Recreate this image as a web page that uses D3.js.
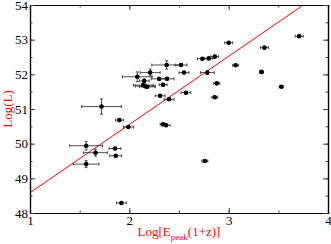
<!DOCTYPE html>
<html>
<head>
<meta charset="utf-8">
<script src="https://cdn.jsdelivr.net/npm/d3@7"></script>
<style>
  body { margin: 0; background: #fff; }
  svg { display: block; }
  text { font-family: "Liberation Serif", "Times New Roman", serif; }
</style>
</head>
<body>
<div id="chart"></div>
<script>
// log Epeak(1+z), log L, and their errors
var logEp  = [1.565, 1.66, 1.565, 1.856, 1.863, 1.92, 1.72, 1.90, 1.99, 2.34, 2.37, 2.76,
              2.08, 2.15, 2.14, 2.18, 2.16, 2.30, 2.38, 2.34, 2.21, 2.376, 2.52, 2.55,
              2.57, 2.31, 2.40, 2.735, 2.80, 2.86, 2.785, 2.88, 2.86, 3.0, 3.07, 3.36,
              3.33, 3.53, 3.71]
var logL   = [49.94, 49.74, 49.41, 49.86, 49.65, 48.29, 51.07, 50.68, 50.48, 50.56, 50.53, 49.50,
              51.93, 51.81, 51.69, 51.64, 51.66, 51.87, 51.87, 51.70, 52.05, 52.27, 52.27, 52.05,
              51.47, 51.38, 51.28, 52.45, 52.46, 52.51, 52.05, 51.74, 51.34, 52.91, 52.26, 52.77,
              52.07, 51.64, 53.10]
var errEp  = [0.166, 0.12, 0.13, 0.06, 0.06, 0.05, 0.2, 0.04, 0.05, 0.03, 0.04, 0.03,
              0.15, 0.05, 0.1, 0.08, 0.1, 0.08, 0.07, 0.04, 0.1, 0.15, 0.06, 0.05,
              0.05, 0.05, 0.05, 0.05, 0.04, 0.04, 0.07, 0.03, 0.03, 0.04, 0.03, 0.04,
              0.02, 0.02, 0.04]
var errL   = [0.12, 0.1, 0.1, 0.03, 0.03, 0.02, 0.22, 0.03, 0.03, 0.03, 0.03, 0.02,
              0.14, 0.05, 0.05, 0.04, 0.05, 0.04, 0.04, 0.04, 0.1, 0.12, 0.04, 0.03,
              0.03, 0.03, 0.03, 0.03, 0.03, 0.03, 0.05, 0.03, 0.03, 0.03, 0.03, 0.03,
              0.02, 0.02, 0.03]

// best fit line: logL = a + b * logEp
var fitA = 46.617
var fitB = 1.968

var xTicks = [1, 2, 3, 4]
var yTicks = [48, 49, 50, 51, 52, 53, 54]

var width = 331, height = 244
var mLeft = 30, mRight = 328, mTop = 5, mBottom = 213

var x = d3.scaleLinear().domain([1, 4]).range([mLeft, mRight])
var y = d3.scaleLinear().domain([48, 54]).range([mBottom, mTop])

var svg = d3.select("#chart").append("svg")
    .attr("width", width)
    .attr("height", height)

svg.append("defs").append("clipPath").attr("id", "clip")
    .append("rect")
    .attr("x", mLeft).attr("y", mTop)
    .attr("width", mRight - mLeft).attr("height", mBottom - mTop)

// fit line
var lineX = [1, 4]
svg.append("line")
    .attr("clip-path", "url(#clip)")
    .attr("x1", x(lineX[0])).attr("y1", y(fitA + fitB * lineX[0]))
    .attr("x2", x(lineX[1])).attr("y2", y(fitA + fitB * lineX[1]))
    .attr("stroke", "#ff0000")
    .attr("stroke-width", 1)

// error bars
var pts = svg.append("g").selectAll("g")
    .data(logEp.map(function (d, i) { return i }))
    .enter()
    .append("g")
    .attr("stroke", "#222")
    .attr("stroke-width", 0.8)

pts.append("line")
    .attr("x1", d => x(logEp[d] - errEp[d])).attr("x2", d => x(logEp[d] + errEp[d]))
    .attr("y1", d => y(logL[d])).attr("y2", d => y(logL[d]))
pts.append("line")
    .attr("x1", d => x(logEp[d])).attr("x2", d => x(logEp[d]))
    .attr("y1", d => y(logL[d] - errL[d])).attr("y2", d => y(logL[d] + errL[d]))
// caps
pts.append("line")
    .attr("x1", d => x(logEp[d] - errEp[d])).attr("x2", d => x(logEp[d] - errEp[d]))
    .attr("y1", d => y(logL[d]) - 1.5).attr("y2", d => y(logL[d]) + 1.5)
pts.append("line")
    .attr("x1", d => x(logEp[d] + errEp[d])).attr("x2", d => x(logEp[d] + errEp[d]))
    .attr("y1", d => y(logL[d]) - 1.5).attr("y2", d => y(logL[d]) + 1.5)
pts.append("line")
    .attr("x1", d => x(logEp[d]) - 1.5).attr("x2", d => x(logEp[d]) + 1.5)
    .attr("y1", d => y(logL[d] - errL[d])).attr("y2", d => y(logL[d] - errL[d]))
pts.append("line")
    .attr("x1", d => x(logEp[d]) - 1.5).attr("x2", d => x(logEp[d]) + 1.5)
    .attr("y1", d => y(logL[d] + errL[d])).attr("y2", d => y(logL[d] + errL[d]))

pts.append("circle")
    .attr("cx", d => x(logEp[d]))
    .attr("cy", d => y(logL[d]))
    .attr("r", 2.3)
    .attr("fill", "#000")
    .attr("stroke", "none")

// axes, ticks pointing inward
var xMinor = d3.range(1, 4.01, 0.5)
var yMinor = d3.range(48, 54.01, 0.5)

function styleAxis(g) {
    g.select(".domain").attr("stroke", "#000").attr("stroke-width", 1.2)
    g.selectAll(".tick line").attr("stroke", "#444")
    g.selectAll("text").attr("font-size", "13px").attr("fill", "#000")
}

svg.append("g")
    .attr("transform", "translate(0," + mBottom + ")")
    .call(d3.axisBottom(x).tickValues(xTicks).tickSizeInner(-5).tickSizeOuter(0).tickPadding(3).tickFormat(d3.format("d")))
    .call(styleAxis)
svg.append("g")
    .attr("transform", "translate(0," + mBottom + ")")
    .call(d3.axisBottom(x).tickValues(xMinor).tickSize(-2.5).tickFormat(""))
    .call(styleAxis)
svg.append("g")
    .attr("transform", "translate(0," + mTop + ")")
    .call(d3.axisTop(x).tickValues(xTicks).tickSizeInner(-5).tickSizeOuter(0).tickFormat(""))
    .call(styleAxis)
svg.append("g")
    .attr("transform", "translate(0," + mTop + ")")
    .call(d3.axisTop(x).tickValues(xMinor).tickSize(-2.5).tickFormat(""))
    .call(styleAxis)

svg.append("g")
    .attr("transform", "translate(" + mLeft + ",0)")
    .call(d3.axisLeft(y).tickValues(yTicks).tickSizeInner(-5).tickSizeOuter(0).tickPadding(2).tickFormat(d3.format("d")))
    .call(styleAxis)
svg.append("g")
    .attr("transform", "translate(" + mLeft + ",0)")
    .call(d3.axisLeft(y).tickValues(yMinor).tickSize(-2.5).tickFormat(""))
    .call(styleAxis)
svg.append("g")
    .attr("transform", "translate(" + mRight + ",0)")
    .call(d3.axisRight(y).tickValues(yTicks).tickSizeInner(-5).tickSizeOuter(0).tickFormat(""))
    .call(styleAxis)
svg.append("g")
    .attr("transform", "translate(" + mRight + ",0)")
    .call(d3.axisRight(y).tickValues(yMinor).tickSize(-2.5).tickFormat(""))
    .call(styleAxis)

// axis titles
var xl = svg.append("text")
    .attr("x", 179)
    .attr("y", 236)
    .attr("text-anchor", "middle")
    .attr("font-size", "13px")
    .attr("fill", "#ff0000")
xl.append("tspan").text("Log[E")
xl.append("tspan").attr("dy", 4).attr("font-size", "9px").text("peak")
xl.append("tspan").attr("dy", -4).text("(1+z)]")

svg.append("text")
    .attr("transform", "translate(12," + ((mTop + mBottom) / 2) + ") rotate(-90)")
    .attr("text-anchor", "middle")
    .attr("font-size", "13px")
    .attr("fill", "#ff0000")
    .text("Log(L)")
</script>
</body>
</html>
